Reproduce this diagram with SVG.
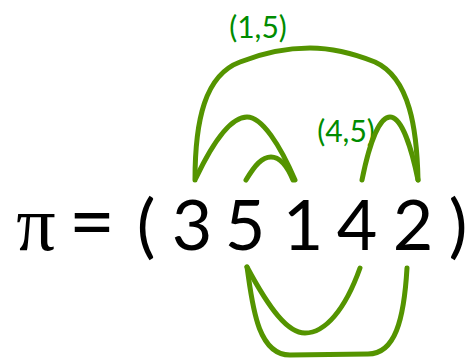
<svg xmlns="http://www.w3.org/2000/svg" width="474" height="361" viewBox="0 0 474 361">
<style>
.t{font-family:"Lato","Noto Sans",sans-serif;font-size:70px;fill:#000;text-anchor:middle}
.l{font-family:"Lato","Noto Sans",sans-serif;font-size:30px;fill:#008c00;text-anchor:middle}
.c{fill:none;stroke:#549400;stroke-width:5;stroke-linecap:round}
</style>
<g id="formula">
<text class="t" x="36" y="250" style="font-family:'Liberation Serif',serif;font-size:78px">π</text>
<text class="t" x="92" y="250" style="font-size:80px">=</text>
<text class="t" x="146" y="250">(</text>
<text class="t" x="192" y="250">3</text>
<text class="t" x="245" y="250">5</text>
<text class="t" x="303" y="250">1</text>
<text class="t" x="357" y="250">4</text>
<text class="t" x="413" y="250">2</text>
<text class="t" x="458" y="250">)</text>
</g>
<g id="labels">
<text class="l" x="258" y="38">(1,5)</text>
<text class="l" x="346" y="142">(4,5)</text>
</g>
<g id="connectors">
<path class="c" d="M195,180 C195,120 205,75 240,62 C265,52 290,48 310,48 C330,48 355,54 375,62 C410,78 417,130 418,180"/>
<path class="c" d="M196,178 C215,138 232,117 247,117 C262,117 280,145 295,180"/>
<path class="c" d="M246,180 C255,165 262,157 271,157 C281,157 288,168 293,180"/>
<path class="c" d="M362,180 C370,140 380,117 390,117 C402,117 412,150 418,180"/>
<path class="c" d="M247,267 C270,310 288,333 305,333 C325,333 345,310 360,268"/>
<path class="c" d="M247,267 C252,300 256,355 290,355 L368,354 C395,354 404,320 407,268"/>
</g>
</svg>
